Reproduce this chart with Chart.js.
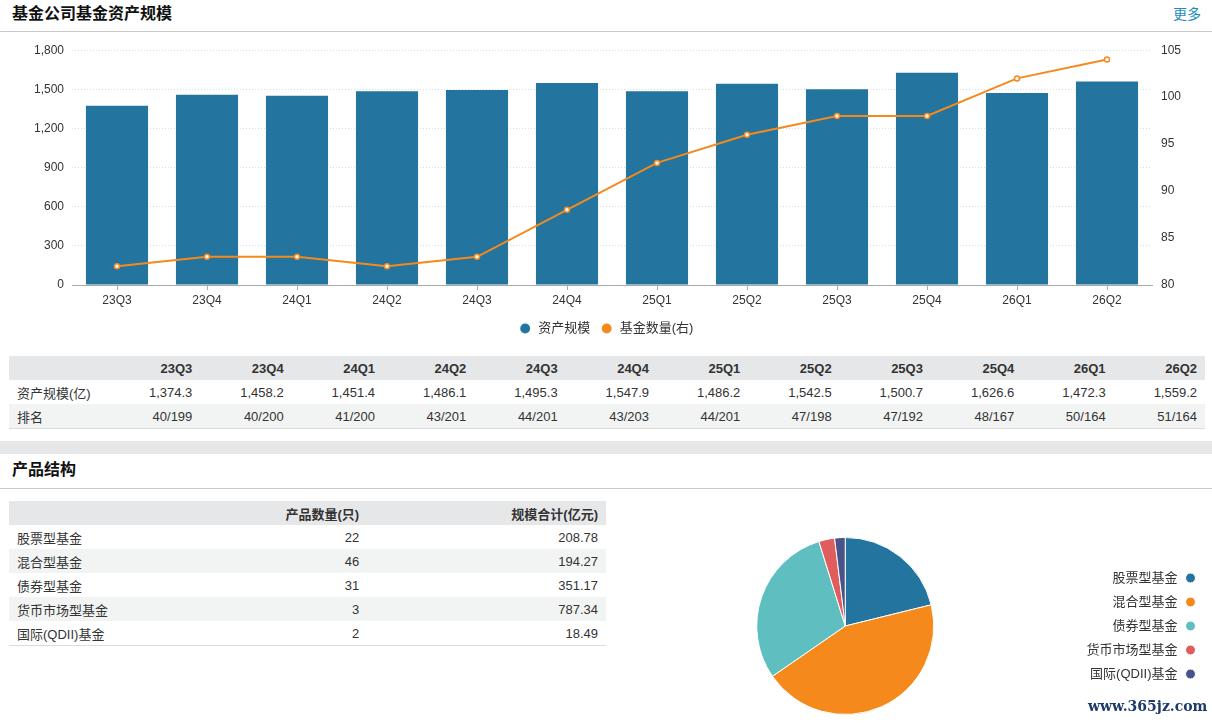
<!DOCTYPE html>
<html>
<head>
<meta charset="utf-8">
<script src="https://cdn.jsdelivr.net/npm/chart.js@4.4.1/dist/chart.umd.min.js"></script>
<style>
  html, body { margin: 0; padding: 0; background: #fff; }
  body { width: 1212px; height: 724px; position: relative; overflow: hidden;
         font-family: Arial, "Liberation Sans", "Noto Sans CJK SC", sans-serif; color: #333; }
  .title { position: absolute; left: 12px; font-size: 16px; font-weight: bold; color: #111; line-height: 20px; }
  .more { position: absolute; right: 11px; top: 5px; font-size: 14px; color: #1c8cbc; line-height: 18px; }
  .hline { position: absolute; left: 0; width: 1212px; height: 1px; background: #c8c8c8; }
  .band { position: absolute; left: 0; width: 1212px; height: 13px; background: #e6e7e9; }
  table { position: absolute; border-collapse: collapse; font-size: 13px; table-layout: fixed; }
  td, th { height: 24px; padding: 0 8px; white-space: nowrap; }
  th { background: #e6e7e9; font-weight: bold; text-align: right; color: #333; }
  td { text-align: right; color: #333; }
  td.name { text-align: left; }
  tr.alt td { background: #f2f3f3; }
  table { border-bottom: 1px solid #dcdcdc; }
  #wm { position: absolute; left: 1088px; top: 698px; font-family: "DejaVu Serif", serif; font-size: 14px; font-weight: bold; color: #1e3a6b; }
</style>
</head>
<body>
<div class="title" style="top:4px;">基金公司基金资产规模</div>
<div class="more">更多</div>
<div class="hline" style="top:31px;"></div>
<div style="position:absolute;left:0;top:34px;width:1212px;height:311px;"><canvas id="barChart"></canvas></div>
<table id="t1" style="left:9px;top:356px;width:1196px;"></table>
<div class="band" style="top:441px;"></div>
<div class="title" style="top:460px;">产品结构</div>
<div class="hline" style="top:488px;"></div>
<table id="t2" style="left:9px;top:501px;width:597px;"></table>
<div style="position:absolute;left:614px;top:537px;width:594px;height:178px;"><canvas id="pieChart"></canvas></div>
<div id="wm">www.365jz.com</div>
<script>
// ---- data ----
const quarters = ['23Q3','23Q4','24Q1','24Q2','24Q3','24Q4','25Q1','25Q2','25Q3','25Q4','26Q1','26Q2'];
const assetSize = [1374.3, 1458.2, 1451.4, 1486.1, 1495.3, 1547.9, 1486.2, 1542.5, 1500.7, 1626.6, 1472.3, 1559.2];
const fundCount = [82, 83, 83, 82, 83, 88, 93, 96, 98, 98, 102, 104];
const ranks = ['40/199','40/200','41/200','43/201','44/201','43/203','44/201','47/198','47/192','48/167','50/164','51/164'];
const leftTicks = [0, 300, 600, 900, 1200, 1500, 1800];
const rightTicks = [80, 85, 90, 95, 100, 105];
const productTypes = ['股票型基金','混合型基金','债券型基金','货币市场型基金','国际(QDII)基金'];
const productCounts = [22, 46, 31, 3, 2];
const productScale = [208.78, 194.27, 351.17, 787.34, 18.49];

const BLUE = '#23759f', ORANGE = '#f5891c';
const pieColors = ['#23759f', '#f5891c', '#5fbec0', '#e05d5d', '#4a5389'];

const fmt1 = v => v.toLocaleString('en-US', {minimumFractionDigits: 1, maximumFractionDigits: 1});
const fmt2 = v => v.toLocaleString('en-US', {minimumFractionDigits: 2, maximumFractionDigits: 2});

// ---- tables ----
(function () {
  const t1 = document.getElementById('t1');
  let h = '<colgroup><col style="width:100px">' + quarters.map(() => '<col>').join('') + '</colgroup>';
  h += '<tr><th></th>' + quarters.map(q => '<th>' + q + '</th>').join('') + '</tr>';
  h += '<tr><td class="name">资产规模(亿)</td>' + assetSize.map(v => '<td>' + fmt1(v) + '</td>').join('') + '</tr>';
  h += '<tr class="alt"><td class="name">排名</td>' + ranks.map(v => '<td>' + v + '</td>').join('') + '</tr>';
  t1.innerHTML = h;

  const t2 = document.getElementById('t2');
  let g = '<colgroup><col style="width:30%"><col style="width:30%"><col style="width:40%"></colgroup>';
  g += '<tr><th></th><th>产品数量(只)</th><th>规模合计(亿元)</th></tr>';
  productTypes.forEach((n, i) => {
    g += '<tr' + (i % 2 === 1 ? ' class="alt"' : '') + '><td class="name">' + n + '</td><td>' + productCounts[i] + '</td><td>' + fmt2(productScale[i]) + '</td></tr>';
  });
  t2.innerHTML = g;
})();

// ---- charts ----
Chart.defaults.font.family = 'Arial, "Liberation Sans", "Noto Sans CJK SC", sans-serif';
Chart.defaults.color = '#333';
Chart.defaults.animation = false;

new Chart(document.getElementById('barChart'), {
  data: {
    labels: quarters,
    datasets: [
      { type: 'line', label: '基金数量(右)', data: fundCount, yAxisID: 'y1',
        borderColor: ORANGE, backgroundColor: ORANGE, borderWidth: 2,
        pointRadius: 2.5, pointBorderWidth: 1.5, pointBackgroundColor: '#fff', pointBorderColor: ORANGE,
        tension: 0 },
      { type: 'bar', label: '资产规模', data: assetSize, yAxisID: 'y',
        backgroundColor: BLUE, borderColor: BLUE, borderWidth: 0,
        categoryPercentage: 1, barPercentage: 0.69 }
    ]
  },
  options: {
    responsive: true, maintainAspectRatio: false,
    layout: { padding: { top: 12, left: 0, right: 0, bottom: 0 } },
    plugins: {
      tooltip: { enabled: false },
      legend: {
        position: 'bottom', reverse: true,
        labels: {
          usePointStyle: true, pointStyle: 'circle', boxHeight: 7, padding: 10,
          font: { size: 13 }, color: '#333',
          generateLabels: (chart) => {
            const items = Chart.defaults.plugins.legend.labels.generateLabels(chart);
            items.forEach(it => {
              const c = chart.data.datasets[it.datasetIndex].borderColor;
              it.fillStyle = c; it.strokeStyle = c; it.lineWidth = 0; it.pointStyle = 'circle';
            });
            return items;
          }
        }
      }
    },
    scales: {
      x: {
        offset: true,
        grid: { offset: false, drawOnChartArea: false, drawTicks: true, tickLength: 5, color: '#aaa' },
        border: { color: '#aaa', width: 1 },
        ticks: { padding: 3, font: { size: 12 }, color: '#333', maxRotation: 0 },
        afterFit: s => { s.height = 27; }
      },
      y: {
        position: 'left', min: 0, max: 1800,
        afterBuildTicks: s => { s.ticks = leftTicks.map(v => ({ value: v })); },
        grid: { color: '#d3deeb', drawTicks: false, lineWidth: 1 },
        border: { display: false, dash: [1, 2] },
        ticks: { padding: 8, font: { size: 12 }, color: '#333',
                 callback: v => v.toLocaleString('en-US') },
        afterFit: s => { s.width = 72; }
      },
      y1: {
        position: 'right', min: 80, max: 105,
        afterBuildTicks: s => { s.ticks = rightTicks.map(v => ({ value: v })); },
        grid: { drawOnChartArea: false, drawTicks: false },
        border: { display: false },
        ticks: { padding: 9, font: { size: 12 }, color: '#333' },
        afterFit: s => { s.width = 60; }
      }
    }
  }
});

new Chart(document.getElementById('pieChart'), {
  type: 'pie',
  data: {
    labels: productTypes,
    datasets: [{ data: productCounts, backgroundColor: pieColors, borderColor: '#fff', borderWidth: 1 }]
  },
  options: {
    responsive: true, maintainAspectRatio: false,
    layout: { padding: 0 },
    plugins: {
      tooltip: { enabled: false },
      legend: {
        position: 'right', rtl: true,
        labels: { usePointStyle: true, pointStyle: 'circle', boxHeight: 7, padding: 11,
                  font: { size: 13 }, color: '#333' }
      }
    }
  }
});
</script>
</body>
</html>
